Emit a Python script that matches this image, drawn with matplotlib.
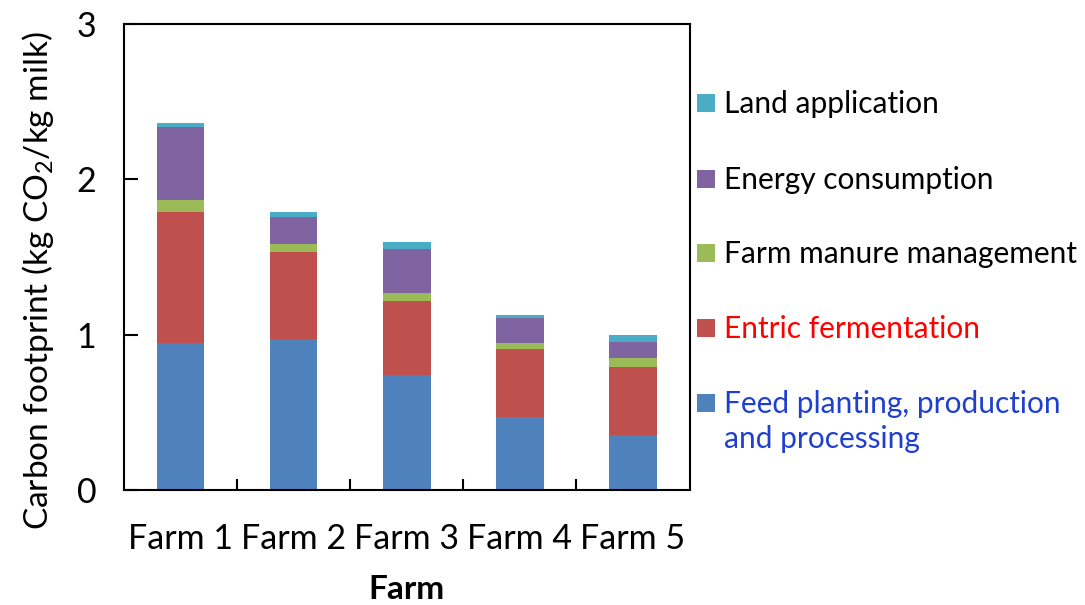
import matplotlib
matplotlib.use("Agg")
import matplotlib.pyplot as plt
from matplotlib.patches import Rectangle
import numpy as np

plt.rcParams['font.family'] = ['Lato', 'DejaVu Sans']
plt.rcParams['mathtext.fontset'] = 'custom'
plt.rcParams['mathtext.rm'] = 'Lato'

farms = ["Farm 1", "Farm 2", "Farm 3", "Farm 4", "Farm 5"]

# Contributions (kg CO2 / kg milk), bottom to top of each stack
feed = [0.95, 0.975, 0.74, 0.47, 0.355]
entric = [0.84, 0.555, 0.48, 0.44, 0.435]
manure = [0.08, 0.055, 0.05, 0.04, 0.06]
energy = [0.465, 0.175, 0.285, 0.16, 0.105]
land = [0.03, 0.03, 0.04, 0.02, 0.045]

series = [
    ("Feed planting, production\nand processing", feed, "#4F81BD", "#1F40CF"),
    ("Entric fermentation", entric, "#C0504D", "#FF0000"),
    ("Farm manure management", manure, "#9BBB59", "black"),
    ("Energy consumption", energy, "#8064A2", "black"),
    ("Land application", land, "#4BACC6", "black"),
]

fig = plt.figure(figsize=(10.85, 6.05), dpi=100)
ax = fig.add_axes([0.1143, 0.190, 0.5212, 0.770])

x = np.arange(len(farms))
bottom = np.zeros(len(farms))
for label, vals, color, _ in series:
    ax.bar(x, vals, width=0.42, bottom=bottom, color=color,
           edgecolor='none', zorder=2)
    bottom += np.array(vals)

ax.set_xlim(-0.5, len(farms) - 0.5)
ax.set_ylim(0, 3)
ax.set_yticks([0, 1, 2, 3])
ax.set_xticks(x)
ax.set_xticklabels(farms)
ax.set_xticks(np.arange(0.5, len(farms) - 0.5, 1.0), minor=True)
ax.tick_params(axis='x', which='major', length=0, pad=24, labelsize=24.5)
ax.tick_params(axis='x', which='minor', direction='in', length=8, width=1.5)
ax.tick_params(axis='y', direction='in', length=10, width=1.5, pad=20,
               labelsize=24.5)
for s in ax.spines.values():
    s.set_linewidth(1.5)

ax.set_xlabel("Farm", fontsize=24, fontweight='bold', labelpad=14)
ax.set_ylabel("Carbon footprint (kg CO$_2$/kg milk)", fontsize=24)
ax.yaxis.set_label_coords(-0.12, 0.45)

# Legend entries drawn top to bottom
ys = [103, 179, 253, 328, 403]
for (label, vals, color, tcolor), yp in zip(reversed(series), ys):
    yf = 1 - yp / 605
    fig.patches.append(Rectangle((697 / 1085, yf - 9 / 605), 18 / 1085,
                                 18 / 605, transform=fig.transFigure,
                                 facecolor=color, edgecolor='none'))
    fig.text(724 / 1085, yf + 13 / 605, label, color=tcolor, fontsize=21.5,
             va='top', ha='left', linespacing=1.3)

fig.savefig("out.png", dpi=100)
